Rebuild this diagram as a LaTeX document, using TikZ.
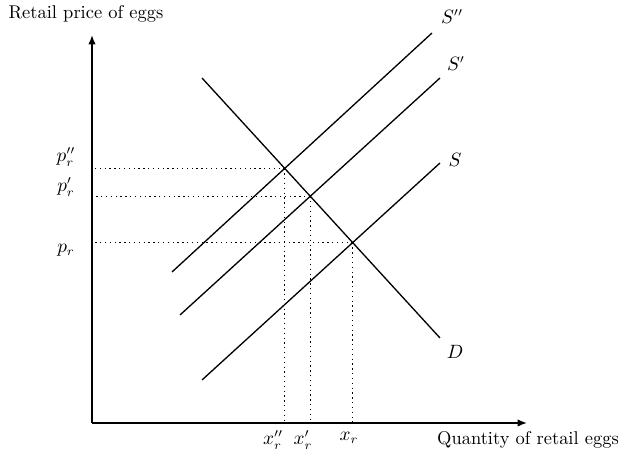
\documentclass[tikz,border=0pt]{standalone}
\usepackage{amsmath}
\usetikzlibrary{arrows.meta,intersections}
\tikzset{
  axisline/.style={
    -{Latex[length=1.9mm,width=1.5mm]},
    line width=0.85pt
  },
  curveline/.style={
    line width=0.75pt
  },
  guideline/.style={
    dotted,
    line width=0.75pt
  },
  curvelabel/.style={
    font=\fontsize{10.5pt}{12.6pt}\selectfont
  }
}

\begin{document}
\begin{tikzpicture}[font=\fontsize{10.5pt}{12.6pt}\selectfont]
  \useasboundingbox (-1.84,-0.70) rectangle (10.68,8.46);
  \coordinate (o) at (0,0);
  \coordinate (ytop) at (0,7.76);
  \coordinate (xend) at (8.7,0);
  \draw[axisline] (o) -- (ytop);
  \draw[axisline] (o) -- (xend);
  \node (ylab) at (-0.12,8.18) {Retail price of eggs};
  \node (xlab) at (8.72,-0.34) {Quantity of retail eggs};

  % demand and the three supply curves
  \draw[curveline, name path=dem] (2.2,6.9) coordinate (d1) -- (6.96,1.7) coordinate (d2);
  \draw[curveline, name path=sup2] (1.6,3.02) coordinate (a1) -- (6.8,7.8) coordinate (a2);
  \draw[curveline, name path=sup1] (1.76,2.16) coordinate (b1) -- (6.96,6.9) coordinate (b2);
  \draw[curveline, name path=sup0] (2.2,0.86) coordinate (c1) -- (6.96,5.2) coordinate (c2);
  \node[curvelabel] (lsup2) at (7.2,8.12) {$S''$};
  \node[curvelabel] (lsup1) at (7.28,7.18) {$S'$};
  \node[curvelabel] (lsup0) at (7.26,5.26) {$S$};
  \node[curvelabel] (ldem) at (7.26,1.42) {$D$};

  \path[name intersections={of=dem and sup2, by=e2}];
  \path[name intersections={of=dem and sup1, by=e1}];
  \path[name intersections={of=dem and sup0, by=e0}];

  % equilibrium guides
  \foreach \e in {e2,e1,e0} {
    \draw[guideline] (\e) -- (o |- \e);
    \draw[guideline] (\e) -- (\e |- o);
  }
  \node (py2) at (-0.52,5.32) {$p_r''$};
  \node (py1) at (-0.52,4.72) {$p_r'$};
  \node (py0) at (-0.52,3.46) {$p_r$};
  \node (qx2) at (3.62,-0.34) {$x_r''$};
  \node (qx1) at (4.22,-0.34) {$x_r'$};
  \node (qx0) at (5.14,-0.30) {$x_r$};
\end{tikzpicture}
\end{document}
